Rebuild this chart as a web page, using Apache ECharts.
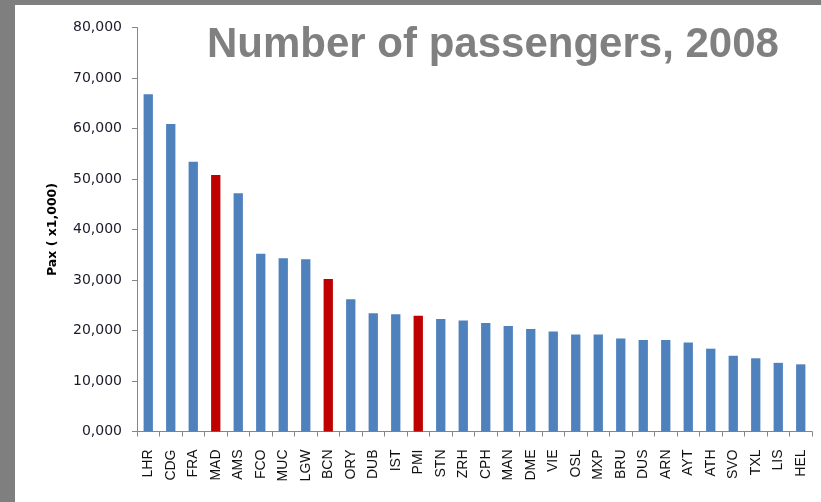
<!DOCTYPE html>
<html>
<head>
<meta charset="utf-8">
<title>Number of passengers, 2008</title>
<script src="https://cdn.jsdelivr.net/npm/echarts@6/dist/echarts.min.js"></script>
<style>
  html, body { margin: 0; padding: 0; background: #ffffff; }
  #chart { width: 821px; height: 502px; }
</style>
</head>
<body>
<div id="chart"></div>
<script>
// Airports, in descending order of 2008 traffic
const airports = ['LHR', 'CDG', 'FRA', 'MAD', 'AMS', 'FCO', 'MUC', 'LGW', 'BCN', 'ORY',
  'DUB', 'IST', 'PMI', 'STN', 'ZRH', 'CPH', 'MAN', 'DME', 'VIE', 'OSL',
  'MXP', 'BRU', 'DUS', 'ARN', 'AYT', 'ATH', 'SVO', 'TXL', 'LIS', 'HEL'];

// Passengers, thousands
const passengers = [66800, 60900, 53400, 50800, 47200, 35200, 34300, 34100, 30200, 26200,
  23400, 23200, 22900, 22300, 22000, 21500, 20900, 20300, 19800, 19200,
  19200, 18400, 18100, 18100, 17600, 16400, 15000, 14500, 13600, 13300];

// Spanish airports drawn in red
const highlighted = ['MAD', 'BCN', 'PMI'];

// Value axis ticks
const yTicks = [0, 10000, 20000, 30000, 40000, 50000, 60000, 70000, 80000];

const BLUE = '#4f81bd';
const RED = '#c00000';
const AXIS = '#868686';

function thousands(v) {
  const hi = Math.floor(v / 1000);
  const lo = String(v % 1000).padStart(3, '0');
  return hi + ',' + lo;
}

const chart = echarts.init(document.getElementById('chart'), null, { renderer: 'canvas' });

chart.setOption({
  animation: false,
  backgroundColor: '#ffffff',
  title: {
    text: 'Number of passengers, 2008',
    left: 202,
    top: 19,
    textStyle: {
      fontFamily: 'Liberation Sans, Arial, sans-serif',
      fontWeight: 'bold',
      fontSize: 42,
      color: '#808080'
    }
  },
  graphic: [
    { type: 'rect', left: 0, top: 0, shape: { width: 821, height: 5 }, style: { fill: '#7f7f7f' }, z: 100 },
    { type: 'rect', left: 0, top: 0, shape: { width: 15, height: 502 }, style: { fill: '#7f7f7f' }, z: 100 }
  ],
  grid: {
    left: 137,
    right: 9,
    top: 27.5,
    bottom: 70.5,
    containLabel: false
  },
  xAxis: {
    type: 'category',
    data: airports,
    boundaryGap: true,
    axisLine: { lineStyle: { color: AXIS, width: 1 } },
    axisTick: { show: true, alignWithLabel: false, length: 5, lineStyle: { color: AXIS } },
    axisLabel: {
      rotate: 90,
      interval: 0,
      margin: 18,
      fontFamily: 'Liberation Sans, Arial, sans-serif',
      fontSize: 14,
      color: '#111111'
    },
    splitLine: { show: false }
  },
  yAxis: {
    type: 'value',
    min: yTicks[0],
    max: yTicks[yTicks.length - 1],
    interval: yTicks[1] - yTicks[0],
    name: 'Pax ( x1,000)',
    nameLocation: 'middle',
    nameGap: 78,
    nameTextStyle: {
      fontFamily: 'DejaVu Sans, sans-serif',
      fontWeight: 'bold',
      fontSize: 12.5,
      color: '#000000'
    },
    axisLine: { show: true, lineStyle: { color: AXIS, width: 1 } },
    axisTick: { show: true, length: 5, lineStyle: { color: AXIS } },
    axisLabel: {
      margin: 15,
      fontFamily: 'DejaVu Sans, sans-serif',
      fontSize: 14,
      color: '#1a1a2a',
      formatter: thousands
    },
    splitLine: { show: false }
  },
  series: [{
    type: 'bar',
    barWidth: 9.3,
    data: passengers.map((v, i) => ({
      value: v,
      itemStyle: { color: highlighted.includes(airports[i]) ? RED : BLUE }
    }))
  }]
});
</script>
</body>
</html>
